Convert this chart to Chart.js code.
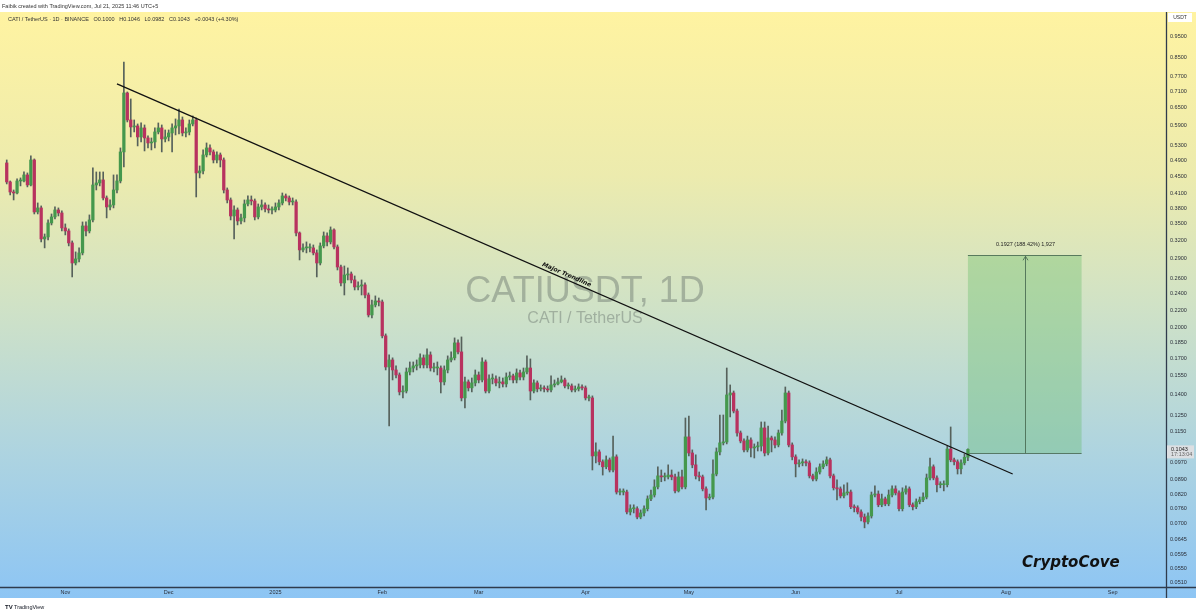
<!DOCTYPE html>
<html>
<head>
<meta charset="utf-8">
<script src="https://cdn.jsdelivr.net/npm/chart.js@4.4.1/dist/chart.umd.min.js"></script>
<style>
  html, body { margin: 0; padding: 0; background: #fff; }
  canvas { display: block; }
</style>
</head>
<body>
<canvas id="chart" width="1200" height="616"></canvas>
<script>
/*====================================
        CATI / USDT daily candles
====================================*/

// first candle is 15 Oct 2024, one candle per day, open = previous close
const firstDate = "2024-10-15";
const firstOpen = 0.4838;

const closes = [
  0.4370,0.4141,0.4119,0.4393,0.4393,0.4537,0.4300,0.4916,0.3721,0.3802,
  0.3220,0.3255,0.3508,0.3623,0.3761,0.3701,0.3416,0.3361,0.3152,0.2831,
  0.2893,0.2988,0.3452,0.3361,0.3565,0.4300,0.4347,0.4417,0.4011,0.3822,
  0.3863,0.4186,0.4393,0.5132,0.7038,0.6091,0.5867,0.5899,0.5561,0.5836,
  0.5531,0.5385,0.5414,0.5712,0.5836,0.5502,0.5561,0.5681,0.5836,0.5899,
  0.6091,0.5681,0.5712,0.5962,0.6091,0.4586,0.4635,0.5050,0.5243,0.5132,
  0.4916,0.5050,0.4916,0.4186,0.3968,0.3642,0.3761,0.3546,0.3604,0.3884,
  0.3968,0.3947,0.3623,0.3822,0.3863,0.3782,0.3761,0.3761,0.3822,0.3905,
  0.4054,0.4011,0.3926,0.3926,0.3325,0.3036,0.3069,0.3069,0.3069,0.2988,
  0.2831,0.3102,0.3272,0.3169,0.3379,0.3085,0.2771,0.2544,0.2655,0.2669,
  0.2585,0.2490,0.2503,0.2517,0.2385,0.2143,0.2261,0.2310,0.2297,0.1916,
  0.1622,0.1684,0.1596,0.1554,0.1419,0.1426,0.1579,0.1613,0.1631,0.1640,
  0.1703,0.1640,0.1730,0.1613,0.1613,0.1613,0.1497,0.1596,0.1684,0.1703,
  0.1845,0.1758,0.1374,0.1497,0.1450,0.1489,0.1554,0.1513,0.1666,0.1426,
  0.1521,0.1521,0.1489,0.1497,0.1481,0.1537,0.1546,0.1513,0.1571,0.1537,
  0.1579,0.1613,0.1426,0.1489,0.1442,0.1450,0.1442,0.1434,0.1473,0.1481,
  0.1497,0.1513,0.1465,0.1465,0.1434,0.1442,0.1457,0.1450,0.1374,0.1374,
  0.1007,0.1029,0.0976,0.0950,0.0986,0.0934,0.1002,0.0830,0.0830,0.0830,
  0.0746,0.0759,0.0759,0.0726,0.0742,0.0759,0.0800,0.0817,0.0853,0.0905,
  0.0900,0.0900,0.0909,0.0900,0.0835,0.0900,0.0853,0.1115,0.1023,0.0960,
  0.0905,0.0900,0.0844,0.0804,0.0808,0.0914,0.1029,0.1080,0.1085,0.1396,
  0.1411,0.1281,0.1139,0.1091,0.1040,0.1097,0.1051,0.1057,0.1062,0.1170,
  0.1023,0.1109,0.1097,0.1068,0.1139,0.1214,0.1411,0.1068,0.1002,0.0965,
  0.0970,0.0976,0.0970,0.0905,0.0890,0.0924,0.0950,0.0965,0.0986,0.0905,
  0.0849,0.0844,0.0813,0.0826,0.0830,0.0767,0.0763,0.0746,0.0726,0.0707,
  0.0730,0.0817,0.0821,0.0775,0.0800,0.0779,0.0817,0.0844,0.0826,0.0759,
  0.0830,0.0844,0.0775,0.0767,0.0788,0.0796,0.0808,0.0895,0.0950,0.0895,
  0.0863,0.0863,0.0863,0.1045,0.0986,0.0976,0.0940,0.0970,0.1000,0.1043
];

const highs = [
  0.4916,0.4393,0.4186,0.4441,0.4465,0.4610,0.4586,0.5023,0.4943,0.3905,
  0.3843,0.3307,0.3565,0.3681,0.3822,0.3802,0.3741,0.3490,0.3398,0.3186,
  0.3004,0.3069,0.3527,0.3527,0.3662,0.4710,0.4610,0.4610,0.4610,0.4054,
  0.3968,0.4537,0.4537,0.5243,0.8310,0.7076,0.6816,0.6091,0.5962,0.5994,
  0.5930,0.5591,0.5531,0.5836,0.5994,0.5930,0.5773,0.5773,0.5962,0.6124,
  0.6460,0.6190,0.5836,0.6091,0.6223,0.6157,0.4761,0.5187,0.5385,0.5328,
  0.5187,0.5132,0.5104,0.4970,0.4232,0.4011,0.3843,0.3802,0.3681,0.3968,
  0.4054,0.4054,0.3989,0.3884,0.3968,0.3905,0.3863,0.3822,0.3905,0.3968,
  0.4119,0.4097,0.4054,0.4011,0.3968,0.3343,0.3135,0.3169,0.3135,0.3118,
  0.3036,0.3152,0.3343,0.3325,0.3434,0.3398,0.3118,0.2801,0.2786,0.2757,
  0.2698,0.2641,0.2558,0.2585,0.2544,0.2411,0.2322,0.2373,0.2347,0.2322,
  0.1936,0.1730,0.1703,0.1631,0.1571,0.1465,0.1613,0.1666,0.1666,0.1684,
  0.1739,0.1730,0.1787,0.1758,0.1657,0.1666,0.1631,0.1631,0.1721,0.1758,
  0.1895,0.1875,0.1905,0.1537,0.1513,0.1529,0.1596,0.1579,0.1703,0.1684,
  0.1554,0.1562,0.1546,0.1537,0.1529,0.1571,0.1579,0.1562,0.1605,0.1596,
  0.1613,0.1721,0.1693,0.1513,0.1505,0.1473,0.1465,0.1465,0.1546,0.1513,
  0.1529,0.1546,0.1529,0.1489,0.1481,0.1465,0.1481,0.1473,0.1465,0.1396,
  0.1389,0.1080,0.1040,0.0986,0.1007,0.0996,0.1120,0.1013,0.0844,0.0844,
  0.0839,0.0775,0.0775,0.0767,0.0754,0.0771,0.0813,0.0839,0.0886,0.0950,
  0.0934,0.0919,0.0960,0.0934,0.0914,0.0924,0.0934,0.1234,0.1247,0.1040,
  0.1013,0.0924,0.0909,0.0853,0.0821,0.0986,0.1051,0.1254,0.1254,0.1613,
  0.1473,0.1426,0.1295,0.1151,0.1103,0.1120,0.1109,0.1074,0.1085,0.1208,
  0.1208,0.1182,0.1120,0.1115,0.1157,0.1288,0.1457,0.1426,0.1080,0.1013,
  0.0986,0.0991,0.0986,0.0981,0.0914,0.0945,0.0965,0.0981,0.1002,0.0996,
  0.0914,0.0886,0.0853,0.0863,0.0872,0.0839,0.0775,0.0771,0.0754,0.0738,
  0.0742,0.0830,0.0858,0.0835,0.0821,0.0808,0.0839,0.0858,0.0858,0.0835,
  0.0849,0.0858,0.0853,0.0783,0.0800,0.0808,0.0826,0.0914,0.0996,0.0960,
  0.0905,0.0877,0.0881,0.1062,0.1176,0.0996,0.0986,0.0986,0.1018,0.1046
];

const lows = [
  0.4323,0.4076,0.3968,0.4097,0.4278,0.4370,0.4255,0.4278,0.3681,0.3681,
  0.3169,0.3069,0.3203,0.3471,0.3584,0.3642,0.3361,0.3290,0.3102,0.2627,
  0.2801,0.2846,0.2956,0.3272,0.3325,0.3527,0.4186,0.4278,0.3968,0.3604,
  0.3761,0.3802,0.4119,0.4347,0.4735,0.6026,0.5561,0.5712,0.5299,0.5414,
  0.5159,0.5243,0.5187,0.5243,0.5651,0.5132,0.5414,0.5443,0.5132,0.5621,
  0.5651,0.5591,0.5561,0.5621,0.5899,0.4032,0.4465,0.4561,0.4996,0.5050,
  0.4838,0.4838,0.4735,0.4119,0.3905,0.3565,0.3220,0.3471,0.3490,0.3527,
  0.3843,0.3863,0.3565,0.3584,0.3761,0.3721,0.3701,0.3681,0.3721,0.3761,
  0.3863,0.3947,0.3863,0.3863,0.3272,0.2877,0.3004,0.2988,0.3004,0.2956,
  0.2627,0.2801,0.3069,0.3102,0.3135,0.3053,0.2727,0.2503,0.2385,0.2585,
  0.2544,0.2450,0.2450,0.2385,0.2347,0.2120,0.2109,0.2237,0.2249,0.1895,
  0.1596,0.1182,0.1513,0.1529,0.1396,0.1374,0.1411,0.1554,0.1579,0.1596,
  0.1613,0.1613,0.1613,0.1587,0.1579,0.1554,0.1411,0.1473,0.1571,0.1666,
  0.1684,0.1739,0.1352,0.1302,0.1426,0.1419,0.1465,0.1489,0.1497,0.1411,
  0.1411,0.1481,0.1465,0.1450,0.1457,0.1457,0.1513,0.1489,0.1489,0.1513,
  0.1513,0.1562,0.1359,0.1411,0.1419,0.1426,0.1419,0.1419,0.1419,0.1457,
  0.1473,0.1489,0.1450,0.1442,0.1419,0.1419,0.1426,0.1434,0.1359,0.1352,
  0.0934,0.0970,0.0960,0.0909,0.0940,0.0924,0.0924,0.0821,0.0817,0.0817,
  0.0738,0.0734,0.0742,0.0719,0.0719,0.0730,0.0750,0.0792,0.0808,0.0844,
  0.0877,0.0881,0.0890,0.0886,0.0826,0.0830,0.0844,0.0844,0.1007,0.0945,
  0.0890,0.0881,0.0835,0.0754,0.0796,0.0800,0.0905,0.1013,0.1068,0.1074,
  0.1241,0.1268,0.1120,0.1080,0.1029,0.1029,0.1002,0.0996,0.1034,0.1034,
  0.1007,0.1013,0.1029,0.1051,0.1057,0.1126,0.1202,0.1057,0.0986,0.0900,
  0.0950,0.0955,0.0955,0.0895,0.0881,0.0881,0.0914,0.0940,0.0955,0.0895,
  0.0839,0.0796,0.0804,0.0804,0.0817,0.0759,0.0746,0.0738,0.0711,0.0685,
  0.0700,0.0722,0.0808,0.0767,0.0767,0.0771,0.0771,0.0808,0.0817,0.0750,
  0.0750,0.0821,0.0767,0.0754,0.0759,0.0779,0.0788,0.0800,0.0886,0.0886,
  0.0830,0.0849,0.0835,0.0853,0.0976,0.0960,0.0914,0.0914,0.0960,0.0982
];

// axis labels
const monthStarts = ["2024-11-01","2024-12-01","2025-01-01","2025-02-01","2025-03-01","2025-04-01",
                     "2025-05-01","2025-06-01","2025-07-01","2025-08-01","2025-09-01"];
const monthLabels = ["Nov","Dec","2025","Feb","Mar","Apr","May","Jun","Jul","Aug","Sep"];
const priceTicks = [0.0510,0.0550,0.0595,0.0645,0.0700,0.0760,0.0820,0.0890,0.0970,0.1150,0.1250,
                    0.1400,0.1550,0.1700,0.1850,0.2000,0.2200,0.2400,0.2600,0.2900,0.3200,0.3500,
                    0.3800,0.4100,0.4500,0.4900,0.5300,0.5900,0.6500,0.7100,0.7700,0.8500,0.9500];

// drawings on the chart
const trendFrom = ["2024-11-16", 0.7386];
const trendTo = ["2025-08-03", 0.0914];
const targetFrom = "2025-07-21";
const targetTo = "2025-08-23";
const entryPrice = 0.10227;
const targetPrice = 0.29497;
const lastPrice = 0.1043;

/*====================================
        helpers
====================================*/

const DAY = 86400000;
const ORIGIN = Date.UTC(2024, 10, 1);

function dayOf(iso) {
    const p = iso.split("-").map(Number);
    return (Date.UTC(p[0], p[1] - 1, p[2]) - ORIGIN) / DAY;
}

const day0 = dayOf(firstDate);
const opens = closes.map((c, i) => i === 0 ? firstOpen : closes[i - 1]);
const up = closes.map((c, i) => c >= opens[i]);

const wickData = closes.map((c, i) => ({ x: day0 + i, y: [lows[i], highs[i]] }));
const bodyData = closes.map((c, i) => ({ x: day0 + i, y: [opens[i], c] }));
const monthDays = monthStarts.map(dayOf);

const FONT = "'Liberation Sans', Arial, sans-serif";

/*====================================
        plugins
====================================*/

const backdrop = {
    id: "backdrop",
    beforeDraw(chart) {
        const { ctx, chartArea: a } = chart;
        ctx.save();
        ctx.fillStyle = "#ffffff";
        ctx.fillRect(0, 0, chart.width, chart.height);

        const g = ctx.createLinearGradient(0, a.top, 0, 598);
        g.addColorStop(0, "#fff3a1");
        g.addColorStop(0.28, "#ecebae");
        g.addColorStop(0.5, "#d0e2c6");
        g.addColorStop(0.75, "#aed4e0");
        g.addColorStop(1, "#8dc5f4");
        ctx.fillStyle = g;
        ctx.fillRect(0, a.top, 1196, 598 - a.top);

        ctx.fillStyle = "#333";
        ctx.font = "5.5px " + FONT;
        ctx.textBaseline = "middle";
        ctx.fillText("Faibik created with TradingView.com, Jul 21, 2025 11:46 UTC+5", 2, 6);
        ctx.restore();
    },
    beforeDatasetsDraw(chart) {
        const { ctx, scales: { x, y } } = chart;
        ctx.save();

        // watermark
        ctx.textAlign = "center";
        ctx.textBaseline = "alphabetic";
        ctx.fillStyle = "rgba(105,115,108,0.45)";
        ctx.font = "36px " + FONT;
        ctx.fillText("CATIUSDT, 1D", 585, 302);
        ctx.font = "16px " + FONT;
        ctx.fillText("CATI / TetherUS", 585, 323);

        // target box
        const x1 = x.getPixelForValue(dayOf(targetFrom));
        const x2 = x.getPixelForValue(dayOf(targetTo));
        const yt = y.getPixelForValue(targetPrice);
        const yb = y.getPixelForValue(entryPrice);
        ctx.fillStyle = "rgba(96,186,100,0.35)";
        ctx.fillRect(x1, yt, x2 - x1, yb - yt);
        ctx.strokeStyle = "rgba(70,105,80,0.85)";
        ctx.lineWidth = 1;
        ctx.beginPath();
        ctx.moveTo(x1, Math.round(yt) + 0.5); ctx.lineTo(x2, Math.round(yt) + 0.5);
        ctx.moveTo(x1, Math.round(yb) + 0.5); ctx.lineTo(x2, Math.round(yb) + 0.5);
        const xm = Math.round((x1 + x2) / 2) + 0.5;
        ctx.moveTo(xm, yb); ctx.lineTo(xm, yt + 1);
        ctx.stroke();
        ctx.beginPath();
        ctx.moveTo(xm - 2.5, yt + 5); ctx.lineTo(xm, yt + 1); ctx.lineTo(xm + 2.5, yt + 5);
        ctx.stroke();

        ctx.fillStyle = "#222";
        ctx.font = "5.5px " + FONT;
        ctx.textBaseline = "middle";
        ctx.fillText("0.1927 (188.42%) 1,927", xm, yt - 11);
        ctx.restore();
    },
    afterDraw(chart) {
        const { ctx, chartArea: a, scales: { x, y } } = chart;
        ctx.save();

        // frame lines
        ctx.strokeStyle = "#2f3b4c";
        ctx.lineWidth = 1.3;
        ctx.beginPath();
        ctx.moveTo(a.right + 0.5, a.top); ctx.lineTo(a.right + 0.5, 598);
        ctx.moveTo(0, a.bottom + 0.5); ctx.lineTo(1196, a.bottom + 0.5);
        ctx.stroke();

        // trendline label
        const p1 = { x: x.getPixelForValue(dayOf(trendFrom[0])), y: y.getPixelForValue(trendFrom[1]) };
        const p2 = { x: x.getPixelForValue(dayOf(trendTo[0])), y: y.getPixelForValue(trendTo[1]) };
        const t = 0.5;
        ctx.translate(p1.x + (p2.x - p1.x) * t, p1.y + (p2.y - p1.y) * t);
        ctx.rotate(Math.atan2(p2.y - p1.y, p2.x - p1.x));
        ctx.fillStyle = "#111";
        ctx.font = "italic bold 6px 'DejaVu Sans', sans-serif";
        ctx.textAlign = "center";
        ctx.textBaseline = "alphabetic";
        ctx.fillText("Major Trendline", 0, -3);
        ctx.setTransform(1, 0, 0, 1, 0, 0);

        // legend line
        ctx.textAlign = "left";
        ctx.textBaseline = "middle";
        ctx.font = "5.5px " + FONT;
        ctx.fillStyle = "#333";
        ctx.fillText("CATI / TetherUS · 1D · BINANCE   O0.1000   H0.1046   L0.0982   C0.1043   +0.0043 (+4.30%)", 8, 19);

        // axis unit box
        ctx.fillStyle = "#ffffff";
        ctx.fillRect(a.right + 2, a.top + 1, 24, 9);
        ctx.fillStyle = "#333";
        ctx.font = "5px " + FONT;
        ctx.textAlign = "center";
        ctx.fillText("USDT", a.right + 14, a.top + 5.5);

        // last price label
        const yp = y.getPixelForValue(lastPrice);
        ctx.fillStyle = "#dcdfe2";
        ctx.fillRect(a.right + 1, yp - 4, 27, 13);
        ctx.textAlign = "left";
        ctx.fillStyle = "#222";
        ctx.font = "5.5px " + FONT;
        ctx.fillText(lastPrice.toFixed(4), a.right + 5, yp);
        ctx.fillStyle = "#666";
        ctx.fillText("17:13:04", a.right + 5, yp + 5.5);

        // signature
        ctx.fillStyle = "#111";
        ctx.font = "italic bold 15px 'DejaVu Sans', sans-serif";
        ctx.textBaseline = "alphabetic";
        ctx.fillText("CryptoCove", 1022, 567);

        // footer
        ctx.fillStyle = "#131722";
        ctx.font = "bold 6px " + FONT;
        ctx.textBaseline = "middle";
        ctx.fillText("TV", 5, 607);
        ctx.font = "5.5px " + FONT;
        ctx.fillText("TradingView", 14, 607);
        ctx.restore();
    }
};

/*====================================
        chart
====================================*/

new Chart(document.getElementById("chart"), {

    type: "bar",

    data: {

        datasets: [{

            type: "line",
            data: [
                { x: dayOf(trendFrom[0]), y: trendFrom[1] },
                { x: dayOf(trendTo[0]), y: trendTo[1] }
            ],
            borderColor: "#111111",
            borderWidth: 1.3,
            pointRadius: 0,
            order: 1

        }, {

            data: bodyData,
            backgroundColor: up.map(u => u ? "#45984d" : "#b8325f"),
            barThickness: 2.6,
            minBarLength: 1,
            grouped: false,
            order: 2

        }, {

            data: wickData,
            backgroundColor: "#56615b",
            barThickness: 1,
            grouped: false,
            order: 3

        }]

    },

    options: {

        responsive: false,
        devicePixelRatio: 1,
        animation: false,
        events: [],

        layout: { padding: { top: 12, right: 5, bottom: 18, left: 0 } },

        plugins: {
            legend: { display: false },
            tooltip: { enabled: false }
        },

        scales: {

            x: {
                type: "linear",
                min: -18.955,
                max: 319.5,
                offset: false,
                grid: { display: false, drawTicks: false },
                border: { display: false },
                afterBuildTicks: s => { s.ticks = monthDays.map(v => ({ value: v })); },
                afterFit: s => { s.height = 11; },
                ticks: {
                    autoSkip: false,
                    maxRotation: 0,
                    padding: 2,
                    color: "#2a2e39",
                    font: { size: 5.5, family: FONT },
                    callback: (v, i) => monthLabels[i]
                }
            },

            y: {
                type: "logarithmic",
                position: "right",
                min: 0.0499,
                max: 1.086,
                grid: { display: false, drawTicks: false },
                border: { display: false },
                afterBuildTicks: s => { s.ticks = priceTicks.map(v => ({ value: v })); },
                afterFit: s => { s.width = 29; },
                ticks: {
                    padding: 4,
                    color: "#2a2e39",
                    font: { size: 5.5, family: FONT },
                    callback: v => Number(v).toFixed(4)
                }
            }

        }

    },

    plugins: [backdrop]

});
</script>
</body>
</html>
